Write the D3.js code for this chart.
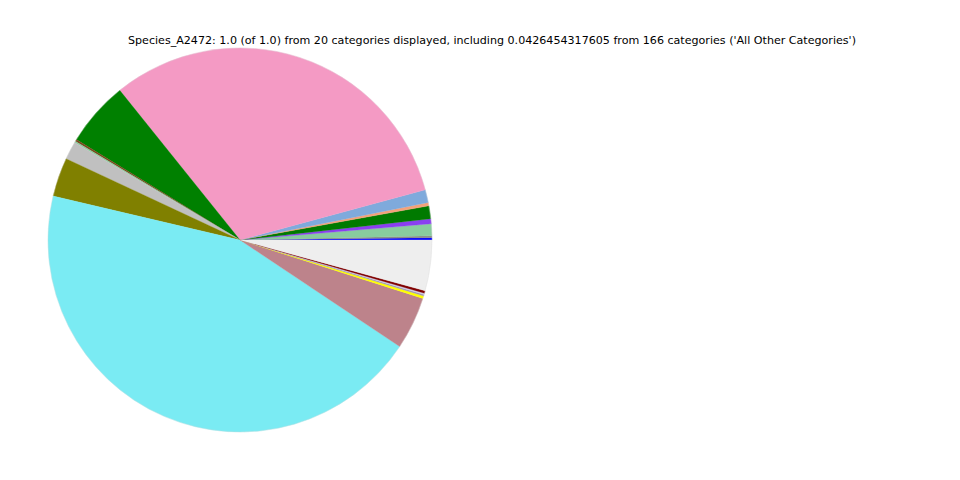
<!DOCTYPE html>
<html>
<head>
<meta charset="utf-8">
<script src="https://cdn.jsdelivr.net/npm/d3@7"></script>
<style>
  html, body { margin: 0; padding: 0; background: #fff; }
  svg { display: block; }
</style>
</head>
<body>
<svg id="chart" width="960" height="480"></svg>
<script>
const titleText = "Species_A2472: 1.0 (of 1.0) from 20 categories displayed, including 0.0426454317605 from 166 categories ('All Other Categories')";
const categories = ["C01","C02","C03","C04","C05","C06","C07","C08","C09","C10","C11","C12","C13","C14","C15","C16","C17","C18","C19","All Other Categories"];
const values = [0.0019,0.0016,0.0100,0.0042,0.0108,0.0028,0.0108,0.3156,0.0547,0.0017,0.0010,0.0153,0.0328,0.4431,0.0444,0.0022,0.0012,0.0012,0.0020,0.0426454317605];
const colors = ["#0000ff","#8c8c8c","#88cc9e","#8a3ff0","#007a00","#f4a27a","#7faadc","#f49ac4","#008000","#7a4a1e","#88cc9e","#c0c0c0","#808000","#7aebf3","#bd838b","#ffff00","#a098b4","#cfcde6","#800000","#eeeeee"];

const svg = d3.select("#chart");
const cx = 240, cy = 240, r = 192;

svg.append("text")
  .attr("x", 492).attr("y", 44)
  .attr("text-anchor", "middle")
  .attr("font-family", "DejaVu Sans")
  .attr("font-size", 11.1)
  .attr("fill", "#000")
  .text(titleText);

const data = categories.map((c, i) => ({ name: c, value: values[i], color: colors[i] }));
const pie = d3.pie().value(d => d.value).sort(null)
  .startAngle(Math.PI / 2).endAngle(Math.PI / 2 - 2 * Math.PI);
const arc = d3.arc().innerRadius(0).outerRadius(r);

svg.append("g").attr("transform", `translate(${cx},${cy})`)
  .selectAll("path").data(pie(data)).join("path")
  .attr("d", arc)
  .attr("fill", d => d.data.color)
  .attr("stroke", d => d.data.color)
  .attr("stroke-width", 0.3);

svg.append("circle").attr("cx", cx).attr("cy", cy).attr("r", r)
  .attr("fill", "none").attr("stroke", "#d8d8d8").attr("stroke-width", 0.5).attr("stroke-opacity", 0.6);
</script>
</body>
</html>
